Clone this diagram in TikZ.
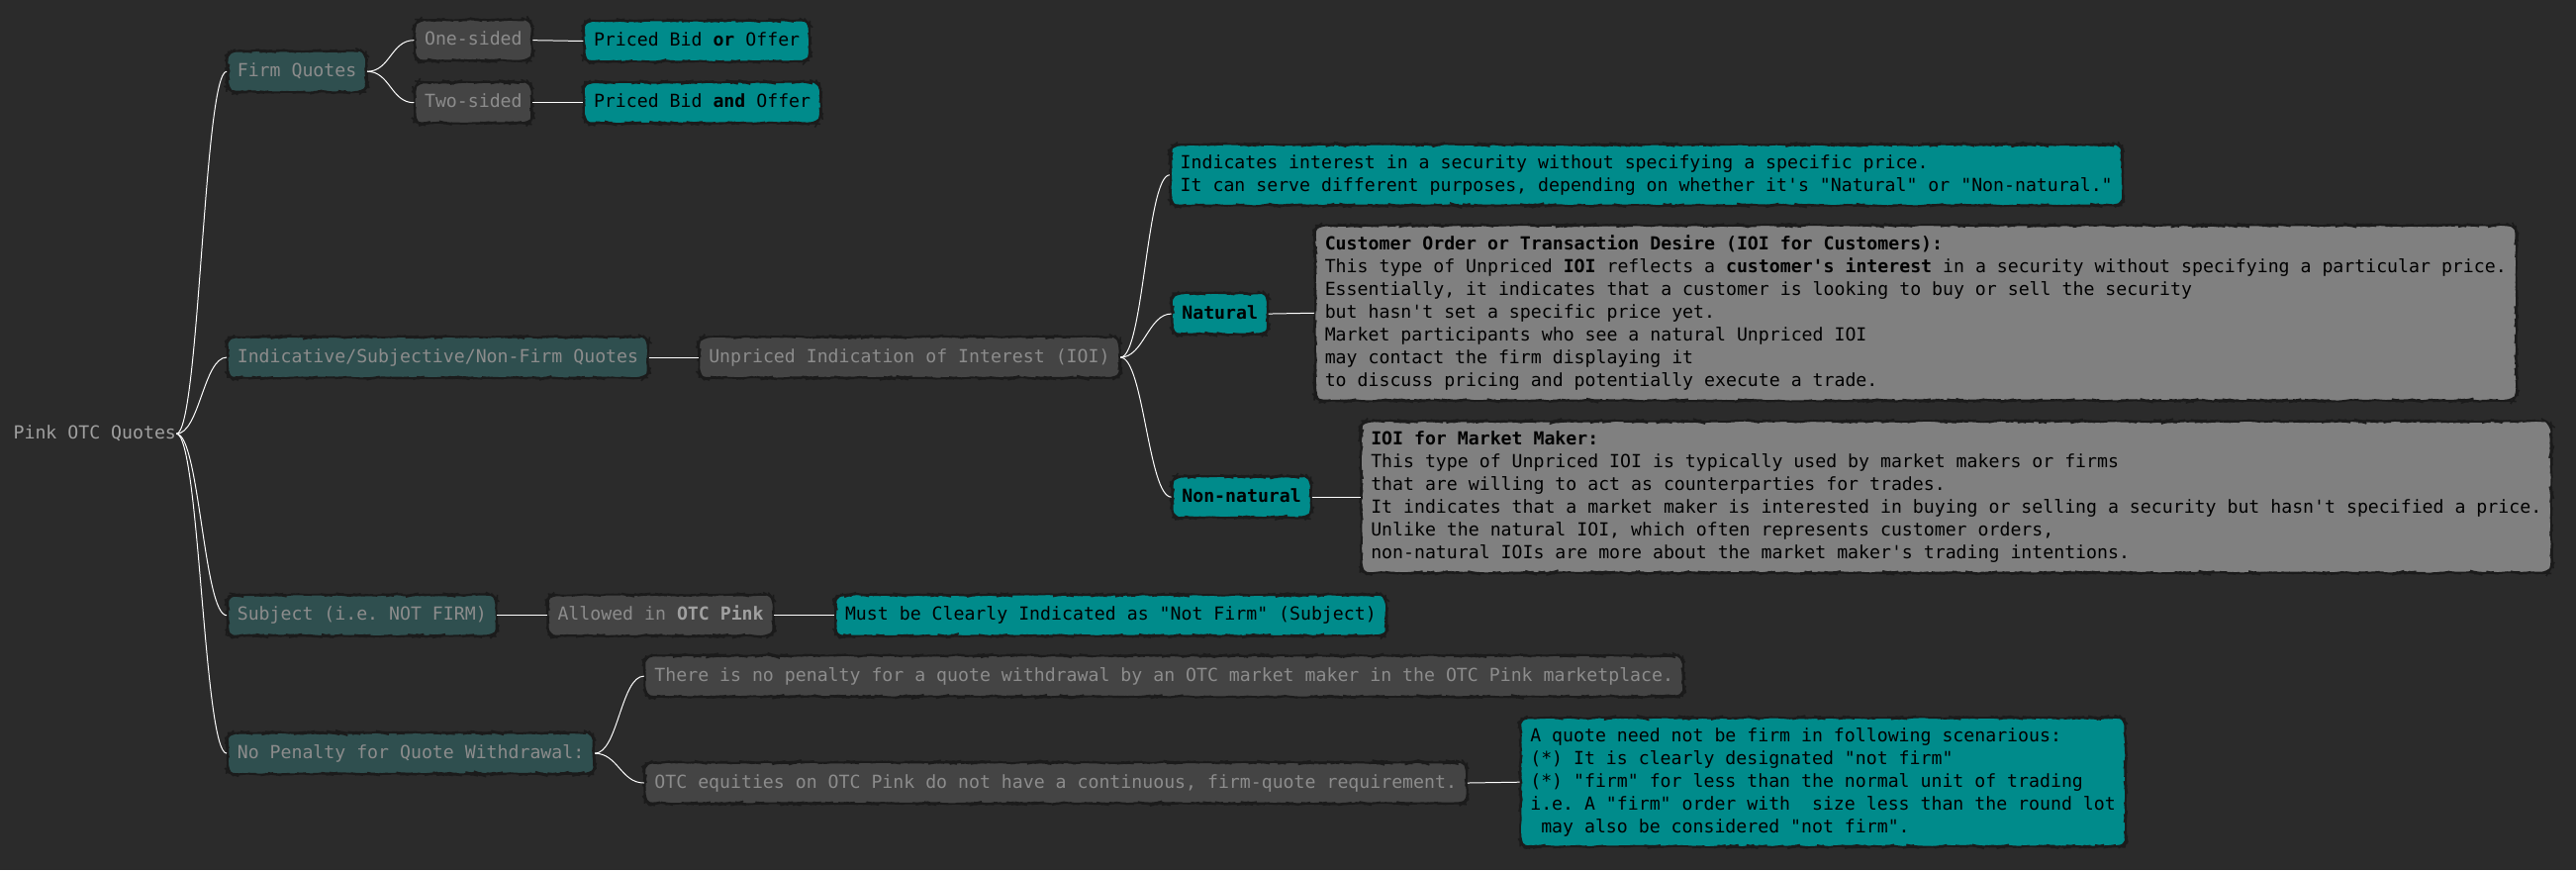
\documentclass[tikz,border=0pt]{standalone}
\usepackage{fontspec}
\setmonofont{DejaVu Sans Mono}
\usetikzlibrary{decorations.pathmorphing}
\definecolor{bgdark}{HTML}{2B2B2B}
\definecolor{slatebox}{HTML}{2F4F4F}
\definecolor{greybox}{HTML}{444444}
\definecolor{tealbox}{HTML}{008B8B}
\definecolor{notegrey}{HTML}{808080}
\definecolor{boxline}{HTML}{1B1B1B}
\definecolor{dimtext}{HTML}{8C8C8C}
\definecolor{roottext}{HTML}{A0A0A0}
\begin{document}
\begin{tikzpicture}[x=1pt,y=-1pt,
  every node/.style={font=\ttfamily\fontsize{10.96}{13.8}\selectfont},
  box/.style={draw=boxline,line width=0.9pt,rounded corners=5pt,
    decorate,decoration={random steps,segment length=2.5pt,amplitude=0.45pt},
    anchor=west,inner xsep=6pt},
  single/.style={box,inner ysep=7pt,text height=8.5pt,text depth=2.5pt},
  topic/.style={single,fill=slatebox,text=dimtext},
  sub/.style={single,fill=greybox,text=dimtext},
  leaf/.style={single,fill=tealbox,text=black},
  note/.style={box,inner ysep=6.3pt,align=left,text=black},
  link/.style={draw=white,line width=0.6pt}]
\pgfmathsetseed{7}
\fill[bgdark] (0,0) rectangle (1568,529.5);
\useasboundingbox (0,0) rectangle (1568,529.5);
\node[anchor=west,text=roottext,inner sep=0pt] (root) at (8,264) {Pink OTC Quotes};
\node[topic] (firm) at (138,43.5) {Firm Quotes};
\node[sub] (one) at (252,24.5) {One-sided};
\node[sub] (two) at (252,62.5) {Two-sided};
\node[leaf] (bidor) at (355,25) {Priced Bid \textbf{or} Offer};
\node[leaf] (bidand) at (355,62.5) {Priced Bid \textbf{and} Offer};
\node[topic] (indic) at (138,217.5) {Indicative/Subjective/Non-Firm Quotes};
\node[sub] (ioi) at (425,217.5) {Unpriced Indication of Interest (IOI)};
\node[note,fill=tealbox] (ioidesc) at (712,106.5) {Indicates interest in a security without specifying a specific price.\\It can serve different purposes, depending on whether it's "Natural" or "Non-natural."};
\node[leaf] (natural) at (713,191) {\textbf{Natural}};
\node[note,fill=notegrey] (natdesc) at (800,190.5) {\textbf{Customer Order or Transaction Desire (IOI for Customers):}\\This type of Unpriced \textbf{IOI} reflects a \textbf{customer's interest} in a security without specifying a particular price.\\Essentially, it indicates that a customer is looking to buy or sell the security\\but hasn't set a specific price yet.\\Market participants who see a natural Unpriced IOI\\may contact the firm displaying it\\to discuss pricing and potentially execute a trade.};
\node[leaf] (nonnat) at (713,302.5) {\textbf{Non-natural}};
\node[note,fill=notegrey] (nonnatdesc) at (828,302.5) {\textbf{IOI for Market Maker:}\\This type of Unpriced IOI is typically used by market makers or firms\\that are willing to act as counterparties for trades.\\It indicates that a market maker is interested in buying or selling a security but hasn't specified a price.\\Unlike the natural IOI, which often represents customer orders,\\non-natural IOIs are more about the market maker's trading intentions.};
\node[topic] (subj) at (138,374.5) {Subject (i.e. NOT FIRM)};
\node[sub] (allowed) at (333,374.5) {Allowed in \textcolor{roottext}{\textbf{OTC Pink}}\ };
\node[leaf] (mustbe) at (508,374.5) {Must be Clearly Indicated as "Not Firm" (Subject)};
\node[topic] (nopen) at (138,458.5) {No Penalty for Quote Withdrawal:};
\node[sub] (nopentxt) at (392,411.5) {There is no penalty for a quote withdrawal by an OTC market maker in the OTC Pink marketplace.};
\node[sub] (equities) at (392,476.5) {OTC equities on OTC Pink do not have a continuous, firm-quote requirement.};
\node[note,fill=tealbox] (notfirm) at (925,476) {A quote need not be firm in following scenarious:\\(*) It is clearly designated "not firm"\\(*) "firm" for less than the normal unit of trading\\i.e. A "firm" order with~ size less than the round lot\\\mbox{} may also be considered "not firm".};
\draw[link] (root.east) .. controls +(14,0) and +(-14,0) .. (firm.west);
\draw[link] (root.east) .. controls +(14,0) and +(-14,0) .. (indic.west);
\draw[link] (root.east) .. controls +(14,0) and +(-14,0) .. (subj.west);
\draw[link] (root.east) .. controls +(14,0) and +(-14,0) .. (nopen.west);
\draw[link] (firm.east) .. controls +(14,0) and +(-14,0) .. (one.west);
\draw[link] (firm.east) .. controls +(14,0) and +(-14,0) .. (two.west);
\draw[link] (one.east) -- (bidor.west);
\draw[link] (two.east) -- (bidand.west);
\draw[link] (indic.east) -- (ioi.west);
\draw[link] (ioi.east) .. controls +(14,0) and +(-14,0) .. (ioidesc.west);
\draw[link] (ioi.east) .. controls +(14,0) and +(-14,0) .. (natural.west);
\draw[link] (ioi.east) .. controls +(14,0) and +(-14,0) .. (nonnat.west);
\draw[link] (natural.east) -- (natdesc.west);
\draw[link] (nonnat.east) -- (nonnatdesc.west);
\draw[link] (subj.east) -- (allowed.west);
\draw[link] (allowed.east) -- (mustbe.west);
\draw[link] (nopen.east) .. controls +(14,0) and +(-14,0) .. (nopentxt.west);
\draw[link] (nopen.east) .. controls +(14,0) and +(-14,0) .. (equities.west);
\draw[link] (equities.east) -- (notfirm.west);
\end{tikzpicture}
\end{document}
